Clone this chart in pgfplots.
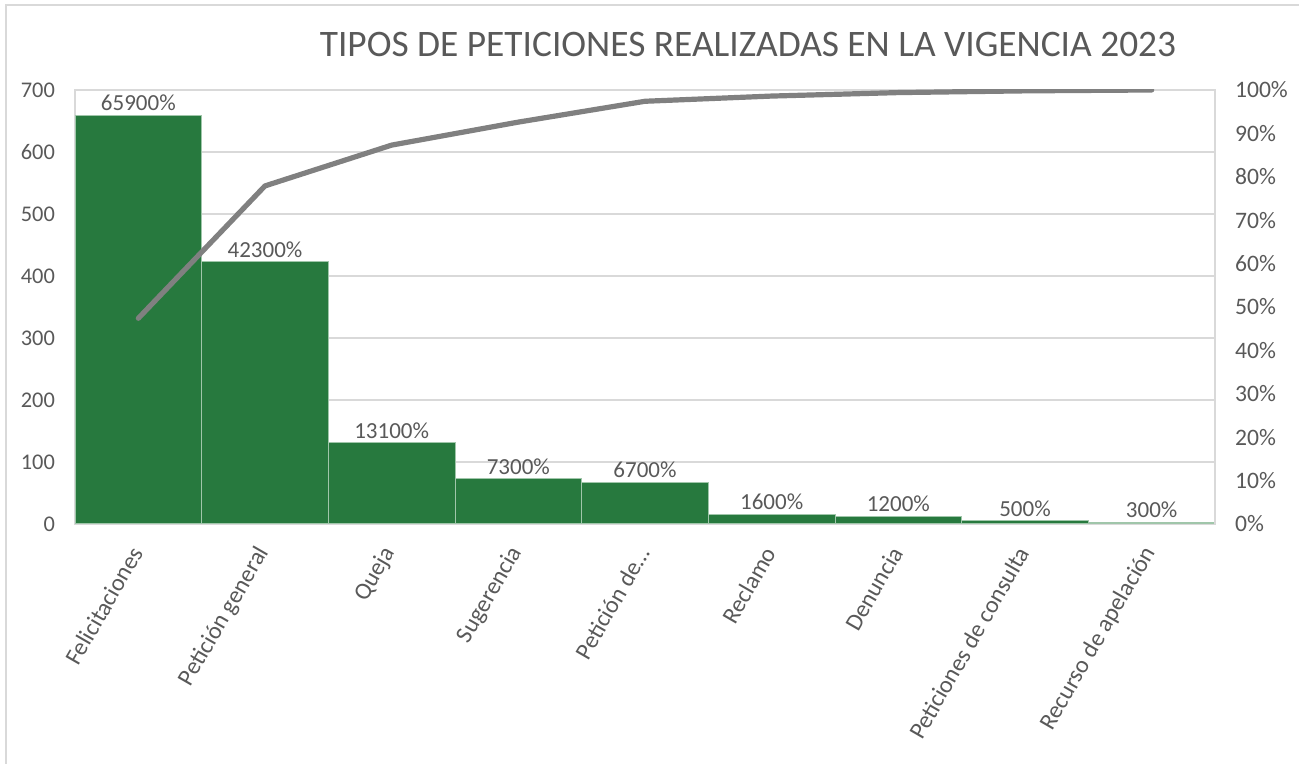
\documentclass[border=0pt]{standalone}
\usepackage{pgfplots}
\usepackage{pgfplotstable}
\pgfplotsset{compat=1.18}
\usepackage{fontspec}
\setmainfont{Carlito}
\definecolor{barGreen}{RGB}{39,121,62}
\definecolor{barEdge}{RGB}{160,198,170}
\definecolor{txtGray}{RGB}{89,89,89}
\definecolor{gridGray}{RGB}{217,217,217}
\definecolor{lineGray}{RGB}{128,128,128}
\pgfplotsset{/pgf/number format/assume math mode=true}

% counts and cumulative share (%)
\pgfplotstableread{
x count cum
0 659 47.4
1 423 77.9
2 131 87.3
3 73  92.6
4 67  97.4
5 16  98.6
6 12  99.4
7 5   99.8
8 3   100
}\datatable

\newcommand{\tickfont}{\fontsize{11.2}{13}\selectfont}
\newcommand{\lblfont}{\fontsize{11.5}{13}\selectfont}
\newcommand{\catfont}{\fontsize{12}{14}\selectfont}

\begin{document}
\begin{tikzpicture}
\path[use as bounding box] (0,0) rectangle (649.5pt,382pt);
\draw[gridGray, line width=0.6pt] (3pt,0) -- (3pt,379.5pt) -- (649.5pt,379.5pt);

\node[text=txtGray, font=\fontsize{18.7}{22}\selectfont] at (374pt,359.5pt)
  {TIPOS DE PETICIONES REALIZADAS EN LA VIGENCIA 2023};

\begin{axis}[
  at={(37.5pt,120pt)}, anchor=south west,
  scale only axis, width=570pt, height=217pt,
  xmin=-0.5, xmax=8.5, ymin=0, ymax=700,
  ytick={0,100,...,700},
  xtick={0,...,8},
  xticklabels={Felicitaciones,Petición general,Queja,Sugerencia,Petición de…,Reclamo,Denuncia,Peticiones de consulta,Recurso de apelación},
  xticklabel style={xshift=1pt, yshift=-9.5pt, rotate=60, anchor=east, font=\catfont, text=txtGray},
  yticklabel style={font=\tickfont, text=txtGray, xshift=-6.5pt},
  yticklabel pos=left,
  major tick length=0pt,
  axis line style={gridGray, line width=0.6pt},
  ymajorgrids, grid style={gridGray, line width=0.6pt},
  ybar, bar width=1, bar shift=0pt,
  point meta=y,
  nodes near coords={\pgfmathprintnumber[fixed,precision=0]{\pgfplotspointmeta}00\%},
  every node near coord/.append style={font=\lblfont, text=txtGray, inner sep=2pt},
]
\addplot[fill=barGreen, draw=barEdge, line width=0.5pt] table[x=x, y=count]{\datatable};
\end{axis}

\begin{axis}[
  at={(37.5pt,120pt)}, anchor=south west,
  scale only axis, width=570pt, height=217pt,
  xmin=-0.5, xmax=8.5, ymin=0, ymax=100,
  ytick={0,10,...,100},
  yticklabel={\pgfmathprintnumber{\tick}\%},
  yticklabel style={font=\fontsize{11.8}{13}\selectfont, text=txtGray, xshift=6.5pt},
  axis y line*=right, axis x line=none,
  y axis line style={gridGray, line width=0.6pt},
  major tick length=0pt,
]
\addplot[lineGray, line width=2.6pt, line cap=round, line join=round, mark=none] table[x=x, y=cum]{\datatable};
\end{axis}
\end{tikzpicture}
\end{document}
